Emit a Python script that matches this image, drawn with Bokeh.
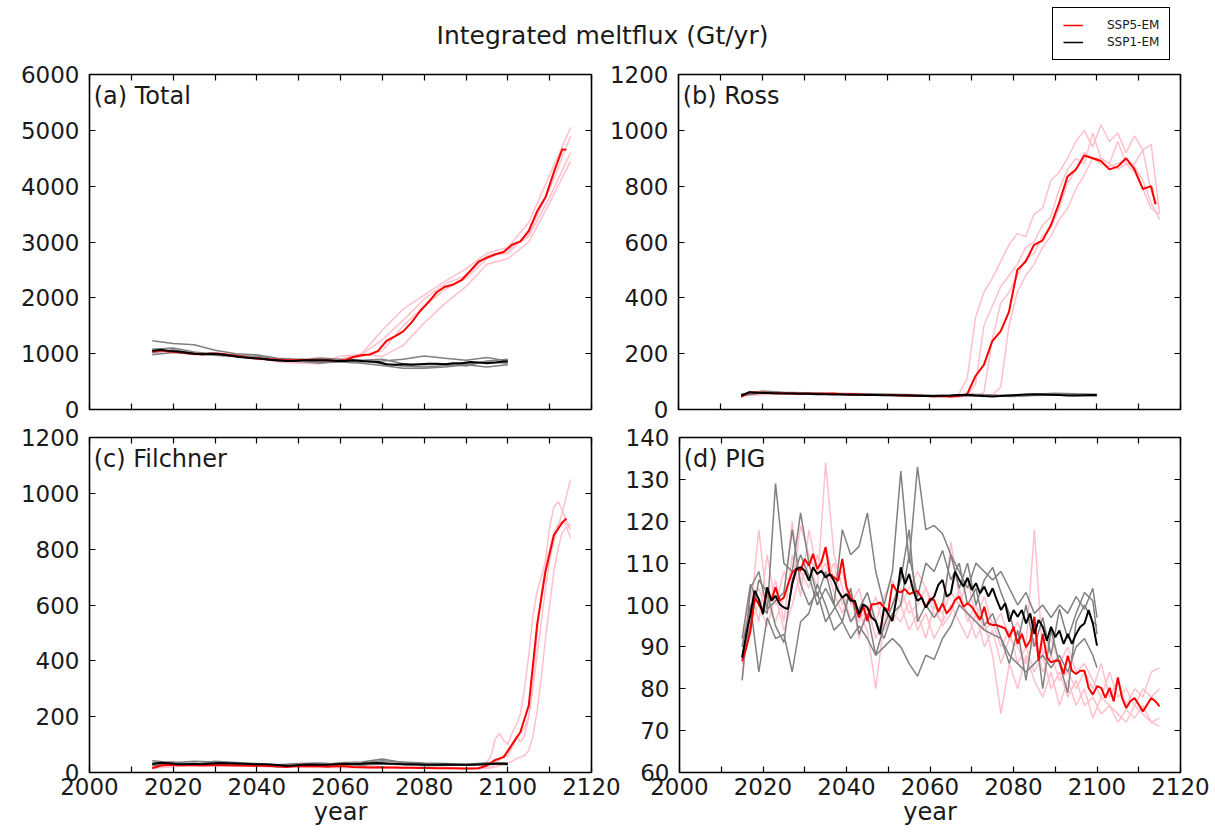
from bokeh.plotting import figure
from bokeh.layouts import column, row
from bokeh.models import Range1d, FixedTicker, LinearAxis, Label, Legend, LegendItem
from bokeh.embed import file_html
from bokeh.resources import INLINE

# ---------------- year grids ----------------
YR_SSP5_EM = list(range(2015, 2114, 2)) + [2114]
YR_SSP1_EM = list(range(2015, 2100, 2)) + [2100]
YR_SSP5_M5 = list(range(2015, 2116, 5))
YR_SSP1_M5 = list(range(2015, 2101, 5))
YR_ROSS_SSP5_M = [2015, 2025, 2035, 2045, 2055, 2065] + list(range(2067, 2116, 2))
YR_FIL_SSP5_M = [2015, 2025, 2035, 2045, 2055, 2065, 2075, 2085, 2092, 2094, 2096] + list(range(2097, 2116))
YR_PIG_SSP5_M = list(range(2015, 2116, 2))
YR_PIG_SSP1_M = list(range(2015, 2100, 2)) + [2100]
YR_PIG_SSP5_EM = list(range(2015, 2116))
YR_PIG_SSP1_EM = list(range(2015, 2101))

# ---------------- (a) Total ----------------
total_ssp5_em = [1040, 1060, 1040, 1030, 1010, 1000, 990, 1000, 1000, 980,
                 960, 940, 920, 910, 900, 890, 880, 880, 890, 880,
                 880, 880, 870, 880, 940, 970, 985, 1050, 1230, 1310,
                 1400, 1560, 1760, 1920, 2100, 2200, 2240, 2320, 2480, 2650,
                 2720, 2780, 2820, 2950, 3010, 3200, 3550, 3800, 4250, 4660, 4650]
total_ssp1_em = [1050, 1070, 1050, 1040, 1020, 1000, 990, 1000, 990, 970,
                 950, 930, 920, 910, 890, 880, 870, 870, 880, 880,
                 880, 880, 870, 870, 880, 870, 860, 850, 810, 800,
                 810, 800, 810, 820, 820, 810, 830, 830, 850, 840,
                 830, 840, 860, 860]
total_ssp5_members = [
    [1060, 1050, 990, 990, 960, 910, 900, 890, 930, 900, 1000, 1420, 1800, 2050, 2300, 2520, 2800, 2900, 3350, 4200, 5050],
    [1000, 1060, 1010, 1000, 950, 930, 850, 830, 820, 960, 980, 1250, 1600, 1980, 2250, 2400, 2750, 2800, 3150, 3950, 4900],
    [1090, 1040, 1000, 1010, 980, 900, 880, 880, 850, 870, 990, 950, 1150, 1550, 1900, 2200, 2600, 2700, 3000, 3700, 4450],
    [1020, 1040, 980, 970, 940, 920, 860, 850, 870, 880, 950, 1050, 1500, 1850, 2150, 2350, 2700, 2850, 3100, 3800, 4600],
]
total_ssp1_members = [
    [1230, 1180, 1160, 1060, 1000, 980, 920, 900, 870, 880, 850, 870, 900, 960, 920, 880, 930, 870],
    [980, 1020, 990, 1010, 960, 920, 870, 880, 920, 900, 880, 820, 780, 760, 790, 820, 850, 830],
    [1080, 1100, 1030, 990, 980, 930, 880, 860, 850, 850, 830, 790, 740, 740, 760, 800, 760, 800],
    [1020, 1070, 1000, 970, 950, 960, 900, 870, 830, 860, 880, 900, 820, 800, 820, 780, 870, 900],
]

# ---------------- (b) Ross ----------------
ross_ssp5_em = [45, 62, 60, 60, 58, 58, 57, 56, 57, 56,
                56, 57, 55, 55, 54, 53, 52, 52, 52, 51,
                50, 49, 48, 47, 48, 47, 48, 55, 120, 160,
                245, 280, 350, 500, 530, 590, 605, 660, 740, 835,
                860, 910, 900, 890, 860, 870, 900, 860, 790, 800, 735]
ross_ssp1_em = [50, 62, 60, 59, 58, 57, 57, 56, 56, 55,
                55, 54, 54, 53, 53, 52, 52, 51, 51, 50,
                50, 49, 48, 48, 49, 50, 52, 53, 50, 48,
                47, 48, 50, 52, 54, 55, 54, 53, 52, 50,
                50, 51, 52, 52]
ross_ssp5_members = [
    [55, 58, 56, 54, 50, 48, 55, 110, 330, 420, 470, 530, 590, 630, 620, 700, 720, 820, 850, 900, 960, 1000, 940, 1020, 960, 990, 920, 980, 930, 950, 700],
    [52, 57, 57, 53, 48, 47, 48, 50, 90, 300, 370, 440, 480, 520, 580, 600, 660, 690, 790, 860, 900, 880, 990, 900, 880, 960, 880, 880, 930, 780, 720],
    [50, 58, 55, 54, 50, 47, 47, 48, 50, 60, 250, 380, 420, 480, 540, 560, 620, 650, 720, 810, 860, 920, 900, 880, 870, 880, 900, 870, 820, 740, 680],
    [50, 56, 57, 52, 49, 46, 46, 47, 48, 50, 52, 80, 300, 420, 480, 520, 580, 620, 680, 720, 790, 840, 900, 900, 880, 860, 880, 850, 790, 720, 700],
]
ross_ssp1_members = [
    [55, 64, 60, 58, 57, 56, 55, 54, 52, 50, 50, 52, 48, 50, 52, 56, 55, 52],
    [48, 60, 58, 57, 55, 55, 53, 52, 50, 48, 47, 50, 48, 47, 50, 52, 50, 48],
    [52, 66, 62, 60, 58, 57, 56, 55, 54, 51, 49, 55, 52, 51, 55, 58, 56, 55],
    [50, 61, 59, 56, 56, 54, 54, 52, 50, 49, 48, 51, 50, 49, 51, 54, 52, 50],
]

# ---------------- (c) Filchner ----------------
fil_ssp5_em = [15, 25, 28, 26, 27, 26, 25, 26, 26, 26,
               25, 25, 24, 24, 23, 22, 20, 22, 22, 23,
               22, 21, 23, 22, 20, 19, 18, 19, 18, 18,
               17, 17, 16, 16, 15, 15, 15, 14, 14, 15,
               25, 45, 55, 100, 145, 240, 530, 720, 850, 895, 910]
fil_ssp1_em = [30, 35, 33, 30, 30, 31, 30, 32, 34, 33,
               32, 31, 30, 30, 29, 27, 24, 25, 28, 29,
               28, 28, 30, 31, 30, 31, 33, 34, 32, 31,
               30, 30, 29, 28, 28, 29, 28, 28, 28, 29,
               30, 31, 31, 30]
fil_ssp5_members = [
    [20, 28, 25, 22, 22, 20, 17, 15, 14, 18, 60, 120, 140, 115, 100, 140, 170, 210, 300, 420, 560, 650, 700, 760, 880, 950, 970, 940, 900, 880],
    [18, 25, 26, 24, 22, 20, 18, 16, 15, 15, 20, 30, 45, 55, 60, 90, 120, 140, 160, 200, 300, 420, 540, 660, 760, 830, 880, 930, 990, 1050],
    [22, 27, 24, 20, 18, 17, 15, 14, 13, 14, 16, 20, 25, 30, 35, 40, 50, 55, 60, 80, 130, 220, 340, 480, 600, 720, 800, 860, 880, 840],
    [15, 26, 25, 21, 23, 19, 16, 15, 14, 16, 30, 40, 50, 60, 70, 100, 130, 110, 130, 200, 320, 500, 640, 740, 800, 860, 890, 900, 890, 870],
]
fil_ssp1_members = [
    [42, 35, 40, 38, 32, 30, 22, 30, 28, 35, 38, 48, 35, 30, 28, 26, 32, 35],
    [25, 30, 28, 30, 30, 28, 25, 24, 26, 28, 26, 30, 28, 24, 25, 28, 30, 28],
    [35, 38, 30, 40, 36, 32, 28, 32, 34, 30, 35, 42, 38, 34, 32, 30, 35, 33],
    [28, 33, 32, 28, 30, 29, 20, 26, 30, 32, 28, 35, 30, 28, 30, 27, 29, 30],
]

# ---------------- (d) PIG ----------------
pig_ssp5_em = [86.6, 89.8, 93.8, 101.8, 100.2, 98.6, 104.2, 101.0, 104.2, 101.0,
               101.8, 105.0, 107.8, 108.6, 108.2, 111.0, 109.4, 112.2, 108.6, 110.2,
               113.8, 107.4, 106.6, 105.8, 111.0, 104.2, 101.8, 100.2, 97.0, 99.8,
               96.2, 100.2, 100.2, 100.6, 99.4, 98.6, 105.0, 103.4, 103.0, 103.8,
               102.6, 103.0, 103.4, 101.8, 99.4, 101.5, 101.2, 98.4, 100.4, 98.0,
               99.2, 101.2, 102.0, 99.6, 100.4, 99.6, 98.0, 96.4, 99.6, 95.6,
               95.2, 95.2, 94.8, 94.4, 92.3, 94.8, 90.7, 93.1, 89.9, 91.5,
               97.2, 86.7, 93.1, 87.5, 86.3, 86.7, 86.7, 83.5, 87.9, 84.3,
               83.5, 84.3, 84.3, 80.2, 78.6, 80.6, 80.2, 77.8, 80.2, 77.0,
               82.7, 77.8, 75.4, 77.0, 77.8, 76.2, 74.6, 76.2, 77.8, 77.0, 75.8]
pig_ssp1_em = [87.4, 93.0, 97.8, 103.4, 101.4, 97.8, 104.2, 101.0, 102.2, 100.2,
               99.4, 99.0, 105.0, 108.6, 109.0, 108.2, 105.8, 109.0, 107.4, 108.2,
               106.6, 107.4, 105.8, 103.4, 101.8, 102.6, 101.0, 101.0, 97.8, 100.2,
               99.4, 97.0, 96.2, 93.0, 99.4, 97.8, 96.2, 101.8, 109.0, 105.0,
               107.4, 103.4, 101.0, 101.8, 99.4, 101.0, 102.0, 104.8, 106.0, 102.0,
               102.8, 108.0, 106.0, 104.4, 106.5, 103.6, 105.2, 102.8, 104.4, 102.0,
               104.0, 101.2, 98.8, 100.4, 96.0, 98.8, 97.2, 98.8, 95.6, 98.0,
               93.1, 96.4, 94.8, 91.5, 94.8, 92.3, 93.9, 90.7, 93.1, 90.7,
               93.1, 94.8, 95.6, 98.8, 95.6, 90.3]
pig_ssp5_members = [
    [82, 98, 118, 100, 96, 102, 120, 105, 110, 104, 134, 112, 104, 96, 98, 94, 80, 96, 100, 104,
     98, 100, 104, 98, 96, 115, 102, 98, 92, 96, 88, 74, 86, 80, 88, 82, 78, 84, 76, 82,
     76, 80, 73, 78, 76, 74, 72, 76, 74, 72, 71],
    [90, 104, 96, 112, 100, 108, 104, 119, 112, 107, 110, 103, 98, 104, 92, 100, 96, 102, 106, 100,
     104, 108, 104, 100, 98, 103, 100, 106, 97, 102, 95, 98, 92, 96, 90, 118, 88, 92, 86, 90,
     84, 86, 82, 78, 84, 78, 80, 76, 80, 78, 80],
    [86, 100, 104, 98, 106, 96, 112, 102, 118, 108, 114, 106, 108, 100, 104, 96, 102, 94, 98, 96,
     101, 94, 98, 92, 96, 100, 96, 92, 98, 90, 94, 86, 92, 90, 86, 92, 84, 88, 82, 84,
     80, 84, 80, 86, 78, 82, 76, 80, 78, 84, 85],
    [88, 96, 100, 95, 102, 94, 100, 108, 104, 112, 106, 110, 100, 102, 96, 100, 92, 98, 96, 100,
     94, 98, 92, 100, 95, 98, 104, 96, 100, 94, 96, 90, 94, 86, 90, 84, 88, 80, 84, 78,
     82, 76, 78, 74, 76, 72, 75, 73, 76, 72, 73],
]
pig_ssp1_members = [
    [92, 105, 100, 98, 129, 110, 108, 122, 110, 102, 108, 100, 118, 112, 114, 122, 108, 100, 108, 132,
     110, 133, 118, 119, 117, 112, 108, 104, 110, 108, 106, 108, 104, 100, 103, 98, 100, 97, 100, 98,
     102, 99, 104, 97],
    [90, 100, 84, 97, 92, 93, 84, 96, 98, 105, 100, 94, 96, 92, 95, 92, 88, 90, 92, 90,
     86, 83, 88, 87, 92, 95, 100, 98, 96, 94, 93, 92, 88, 86, 84, 86, 88, 85, 88, 84,
     90, 92, 88, 85],
    [82, 104, 108, 99, 101, 103, 118, 105, 100, 103, 96, 99, 102, 96, 99, 103, 96, 92, 98, 100,
     112, 102, 110, 108, 113, 106, 110, 100, 104, 95, 98, 92, 86, 94, 82, 96, 80, 94, 86, 79,
     96, 100, 96, 95],
    [88, 95, 106, 103, 95, 91, 106, 112, 107, 100, 104, 100, 96, 104, 93, 98, 88, 95, 100, 106,
     118, 96, 100, 97, 100, 112, 104, 110, 100, 106, 109, 103, 98, 91, 100, 90, 97, 88, 99, 92,
     98, 103, 101, 93],
]

# ---------------- axes / labels ----------------
X_TICKS = [2000, 2020, 2040, 2060, 2080, 2100, 2120]
X_MINOR = [2010, 2030, 2050, 2070, 2090, 2110]
TITLE = "Integrated meltflux (Gt/yr)"
LEGEND_LABELS = ["SSP5-EM", "SSP1-EM"]

FONT = "DejaVu Sans"
TICK_FS = "23px"
TXT = "#1a1a1a"
PINK = "#ffc0cb"
GRAY = "#808080"
RED = "#ff0000"
BLACK = "#000000"


def style_axis(ax, standoff):
    ax.axis_line_color = None
    ax.major_tick_in = 6
    ax.major_tick_out = 0
    ax.minor_tick_in = 6
    ax.minor_tick_out = 0
    ax.major_tick_line_color = "black"
    ax.minor_tick_line_color = "black"
    ax.major_tick_line_width = 1.2
    ax.minor_tick_line_width = 1.2
    ax.major_label_text_font = FONT
    ax.major_label_text_font_size = TICK_FS
    ax.major_label_text_color = TXT
    ax.major_label_standoff = standoff


def make_panel(width, height, mbl, mbr, mbt, mbb, ymin, ymax, ystep, xlabels, label):
    p = figure(width=width, height=height,
               x_range=Range1d(2000, 2120), y_range=Range1d(ymin, ymax),
               output_backend="svg", toolbar_location=None,
               x_axis_location=None, y_axis_location=None,
               min_border_left=mbl, min_border_right=mbr,
               min_border_top=mbt, min_border_bottom=mbb)
    p.xgrid.visible = False
    p.ygrid.visible = False
    p.outline_line_color = "black"
    p.outline_line_width = 1.6
    p.outline_line_alpha = 1.0
    p.background_fill_color = "white"
    p.border_fill_color = "white"

    yvals = list(range(ymin, ymax + 1, ystep))
    # labelled tickers
    xt_lab = FixedTicker(ticks=X_TICKS, minor_ticks=X_MINOR)
    yt_lab = FixedTicker(ticks=yvals, minor_ticks=[])
    # label-free tickers (all ticks as minor ticks -> no tick labels)
    xt_bare = FixedTicker(ticks=[], minor_ticks=X_TICKS + X_MINOR)
    yt_bare = FixedTicker(ticks=[], minor_ticks=yvals)

    xb = LinearAxis(ticker=xt_lab if xlabels else xt_bare)
    style_axis(xb, 5)
    if xlabels:
        xb.axis_label = "year"
        xb.axis_label_text_font = FONT
        xb.axis_label_text_font_size = "24px"
        xb.axis_label_text_font_style = "normal"
        xb.axis_label_text_color = TXT
        xb.axis_label_standoff = 0
    p.add_layout(xb, "below")
    xa = LinearAxis(ticker=xt_bare)
    style_axis(xa, 0)
    p.add_layout(xa, "above")

    yl = LinearAxis(ticker=yt_lab)
    style_axis(yl, 10)
    p.add_layout(yl, "left")
    yr = LinearAxis(ticker=yt_bare)
    style_axis(yr, 0)
    p.add_layout(yr, "right")

    p.add_layout(Label(x=2001, y=ymax - 0.022 * (ymax - ymin), text=label,
                       text_font=FONT, text_font_size="24px", text_color=TXT,
                       text_baseline="top", text_align="left"))
    return p


def draw(p, yrs5m, m5, yrs1m, m1, yrs5e, e5, yrs1e, e1):
    for vals in m5:
        n = min(len(yrs5m), len(vals))
        p.line(yrs5m[:n], vals[:n], line_color=PINK, line_width=1.5)
    for vals in m1:
        n = min(len(yrs1m), len(vals))
        p.line(yrs1m[:n], vals[:n], line_color=GRAY, line_width=1.5)
    n = min(len(yrs5e), len(e5))
    p.line(yrs5e[:n], e5[:n], line_color=RED, line_width=2)
    n = min(len(yrs1e), len(e1))
    p.line(yrs1e[:n], e1[:n], line_color=BLACK, line_width=2)


# header (title + legend)
HDR_H = 61
hdr = figure(width=1215, height=HDR_H, x_range=Range1d(0, 1215), y_range=Range1d(0, HDR_H),
             output_backend="svg", toolbar_location=None,
             x_axis_location=None, y_axis_location=None, min_border=0)
hdr.xgrid.visible = False
hdr.ygrid.visible = False
hdr.outline_line_color = None
hdr.add_layout(Label(x=602, y=HDR_H - 35, text=TITLE, text_font=FONT, text_font_size="25px",
                     text_color=TXT, text_align="center", text_baseline="middle"))
# legend samples (kept outside the visible header range)
r_red = hdr.line([-50, -40], [-50, -50], line_color=RED, line_width=1.5)
r_blk = hdr.line([-50, -40], [-50, -50], line_color=BLACK, line_width=1.5)
leg = Legend(items=[LegendItem(label=LEGEND_LABELS[0], renderers=[r_red]),
                    LegendItem(label=LEGEND_LABELS[1], renderers=[r_blk])],
             location=(1052, 1), margin=0, padding=10, spacing=3,
             glyph_width=20, glyph_height=14, label_height=14, label_standoff=24,
             label_text_font=FONT, label_text_font_size="12px", label_text_color=TXT,
             border_line_color="black", border_line_width=1.5, border_line_alpha=1,
             background_fill_color="white", background_fill_alpha=1)
hdr.add_layout(leg)

pa = make_panel(600, 362, 89, 9, 13, 14, 0, 6000, 1000, False, "(a) Total")
draw(pa, YR_SSP5_M5, total_ssp5_members, YR_SSP1_M5, total_ssp1_members,
     YR_SSP5_EM, total_ssp5_em, YR_SSP1_EM, total_ssp1_em)

pb = make_panel(615, 362, 78, 35, 13, 14, 0, 1200, 200, False, "(b) Ross")
draw(pb, YR_ROSS_SSP5_M, ross_ssp5_members, YR_SSP1_M5, ross_ssp1_members,
     YR_SSP5_EM, ross_ssp5_em, YR_SSP1_EM, ross_ssp1_em)

pc = make_panel(622, 409, 89, 31, 14, 60, 0, 1200, 200, True, "(c) Filchner")
draw(pc, YR_FIL_SSP5_M, fil_ssp5_members, YR_SSP1_M5, fil_ssp1_members,
     YR_SSP5_EM, fil_ssp5_em, YR_SSP1_EM, fil_ssp1_em)

pd = make_panel(593, 409, 56, 35, 14, 60, 60, 140, 10, True, "(d) PIG")
draw(pd, YR_PIG_SSP5_M, pig_ssp5_members, YR_PIG_SSP1_M, pig_ssp1_members,
     YR_PIG_SSP5_EM, pig_ssp5_em, YR_PIG_SSP1_EM, pig_ssp1_em)

layout = column(hdr, row(pa, pb), row(pc, pd))

open("out.html", "w").write(file_html(layout, INLINE, "Integrated meltflux"))
